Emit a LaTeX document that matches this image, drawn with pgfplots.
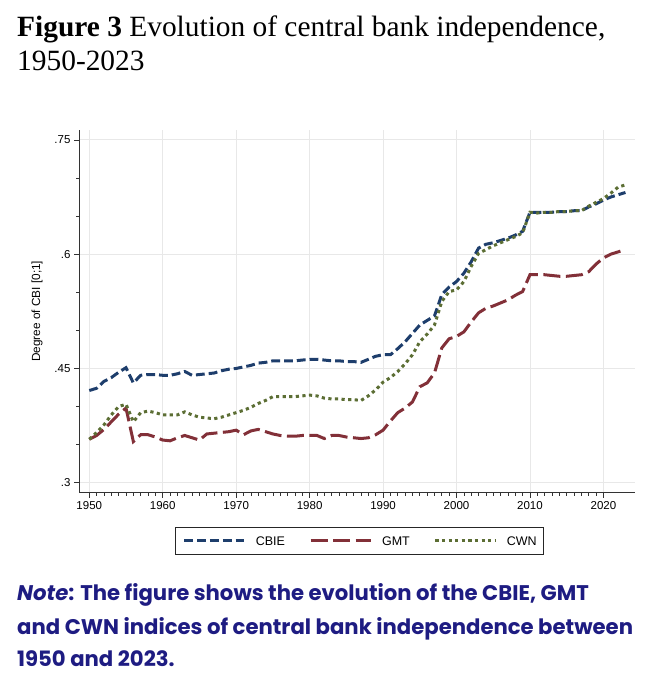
\documentclass[border=0pt]{standalone}
\usepackage{pgfplots}
\pgfplotsset{compat=1.18}
\usepackage{fontspec}
\setmainfont{Liberation Serif}
\newfontfamily\arial{Liberation Sans}
\newfontfamily\notefont{Poppins}
\definecolor{cnavy}{RGB}{30,62,108}
\definecolor{cmaroon}{RGB}{130,48,56}
\definecolor{cgreen}{RGB}{92,110,52}
\definecolor{notecol}{RGB}{30,28,130}
\definecolor{gridc}{RGB}{232,232,232}
\begin{document}
\begin{tikzpicture}[x=1pt,y=1pt]
\path[use as bounding box] (0,0) rectangle (664,680);
\node[anchor=base west,inner sep=0pt] at (17,680-37) {\fontsize{29.4}{34}\selectfont\textbf{Figure 3} Evolution of central bank independence,};
\node[anchor=base west,inner sep=0pt] at (17,680-71) {\fontsize{29.4}{34}\selectfont 1950-2023};
\begin{axis}[
  at={(79pt,187.3pt)}, anchor=south west,
  scale only axis, width=556pt, height=362.7pt,
  xmin=1948.6, xmax=2024.3, ymin=0.2869, ymax=0.763,
  axis lines*=left, axis line style={-, line width=0.9pt, black!80},
  xtick={1950,1960,...,2020}, minor x tick num=9,
  ytick={0.3,0.45,0.6,0.75}, yticklabels={.3,.45,.6,.75}, minor y tick num=2,
  tick align=outside, major tick length=5pt, minor tick length=3pt,
  every tick/.style={black!80, line width=0.7pt},
  grid=major, major grid style={gridc, line width=0.8pt},
  tick label style={font=\arial\fontsize{11.5}{12}\selectfont},
  /pgf/number format/assume math mode=true,
  xticklabel style={/pgf/number format/1000 sep={}},
  ylabel={\arial\fontsize{11.8}{12}\selectfont Degree of CBI [0;1]},
  ylabel style={at={(axis description cs:0,0.5)}, anchor=south, yshift=33pt},
  legend columns=3,
  legend style={at={(axis description cs:0.505,-0.0946)}, anchor=north, draw=black!85, line width=0.9pt,
    font=\arial\fontsize{12.5}{13}\selectfont, inner xsep=7pt, inner ysep=9pt,
    nodes={inner sep=0pt, text depth=0pt},
    /tikz/every odd column/.append style={column sep=10pt},
    /tikz/every even column/.append style={column sep=24pt}},
  legend image code/.code={\draw[#1] (0pt,0pt) -- (60pt,0pt);},
  clip=false,
]
\addplot[cnavy, line width=3pt, dash pattern=on 8.8pt off 4pt] coordinates {
(1950,0.421)(1951,0.424)(1952,0.433)(1953,0.438)(1954,0.445)(1955,0.451)(1956,0.431)(1957,0.441)(1958,0.442)(1959,0.442)(1960,0.441)(1961,0.441)(1962,0.443)(1963,0.446)(1964,0.441)(1965,0.442)(1966,0.443)(1967,0.444)(1968,0.447)(1969,0.449)(1970,0.450)(1971,0.452)(1972,0.454)(1973,0.457)(1974,0.458)(1975,0.460)(1976,0.460)(1977,0.460)(1978,0.460)(1979,0.461)(1980,0.462)(1981,0.462)(1982,0.461)(1983,0.460)(1984,0.460)(1985,0.459)(1986,0.459)(1987,0.458)(1988,0.462)(1989,0.466)(1990,0.468)(1991,0.468)(1992,0.476)(1993,0.485)(1994,0.496)(1995,0.507)(1996,0.513)(1997,0.519)(1998,0.547)(1999,0.557)(2000,0.564)(2001,0.575)(2002,0.590)(2003,0.608)(2004,0.613)(2005,0.615)(2006,0.618)(2007,0.621)(2008,0.625)(2009,0.630)(2010,0.655)(2011,0.655)(2012,0.655)(2013,0.655)(2014,0.656)(2015,0.656)(2016,0.657)(2017,0.657)(2018,0.662)(2019,0.666)(2020,0.671)(2021,0.675)(2022,0.678)(2023,0.681)};
\addlegendentry{CBIE}
\addplot[cmaroon, line width=3pt, dash pattern=on 17pt off 5.5pt] coordinates {
(1950,0.357)(1951,0.362)(1952,0.370)(1953,0.380)(1954,0.390)(1955,0.398)(1956,0.354)(1957,0.363)(1958,0.363)(1959,0.360)(1960,0.356)(1961,0.355)(1962,0.359)(1963,0.362)(1964,0.359)(1965,0.356)(1966,0.364)(1967,0.365)(1968,0.366)(1969,0.367)(1970,0.369)(1971,0.363)(1972,0.368)(1973,0.370)(1974,0.367)(1975,0.364)(1976,0.362)(1977,0.361)(1978,0.361)(1979,0.362)(1980,0.362)(1981,0.362)(1982,0.358)(1983,0.362)(1984,0.362)(1985,0.360)(1986,0.359)(1987,0.358)(1988,0.359)(1989,0.363)(1990,0.369)(1991,0.381)(1992,0.392)(1993,0.398)(1994,0.406)(1995,0.426)(1996,0.431)(1997,0.444)(1998,0.477)(1999,0.489)(2000,0.492)(2001,0.498)(2002,0.511)(2003,0.523)(2004,0.529)(2005,0.532)(2006,0.536)(2007,0.540)(2008,0.546)(2009,0.551)(2010,0.573)(2011,0.573)(2012,0.573)(2013,0.572)(2014,0.571)(2015,0.571)(2016,0.572)(2017,0.573)(2018,0.577)(2019,0.587)(2020,0.595)(2021,0.600)(2022,0.603)(2023,0.606)};
\addlegendentry{GMT}
\addplot[cgreen, line width=3pt, dash pattern=on 3.2pt off 3.4pt] coordinates {
(1950,0.357)(1951,0.366)(1952,0.376)(1953,0.389)(1954,0.400)(1955,0.403)(1956,0.380)(1957,0.392)(1958,0.394)(1959,0.392)(1960,0.389)(1961,0.389)(1962,0.389)(1963,0.393)(1964,0.389)(1965,0.386)(1966,0.385)(1967,0.384)(1968,0.386)(1969,0.389)(1970,0.392)(1971,0.395)(1972,0.399)(1973,0.404)(1974,0.408)(1975,0.413)(1976,0.413)(1977,0.413)(1978,0.413)(1979,0.414)(1980,0.415)(1981,0.414)(1982,0.411)(1983,0.410)(1984,0.410)(1985,0.409)(1986,0.409)(1987,0.408)(1988,0.414)(1989,0.422)(1990,0.432)(1991,0.438)(1992,0.446)(1993,0.456)(1994,0.468)(1995,0.485)(1996,0.495)(1997,0.507)(1998,0.538)(1999,0.551)(2000,0.553)(2001,0.564)(2002,0.584)(2003,0.601)(2004,0.606)(2005,0.611)(2006,0.615)(2007,0.619)(2008,0.623)(2009,0.628)(2010,0.655)(2011,0.654)(2012,0.655)(2013,0.655)(2014,0.656)(2015,0.656)(2016,0.657)(2017,0.657)(2018,0.663)(2019,0.668)(2020,0.673)(2021,0.680)(2022,0.688)(2023,0.691)};
\addlegendentry{CWN}
\end{axis}
\node[anchor=base west,inner sep=0pt,text=notecol] at (17,680-601) {\notefont\bfseries\fontsize{21.2}{24}\selectfont\textit{Note}: The figure shows the evolution of the CBIE, GMT};
\node[anchor=base west,inner sep=0pt,text=notecol] at (17,680-635) {\notefont\bfseries\fontsize{21.2}{24}\selectfont and CWN indices of central bank independence between};
\node[anchor=base west,inner sep=0pt,text=notecol] at (17,680-667) {\notefont\bfseries\fontsize{21.2}{24}\selectfont 1950 and 2023.};
\end{tikzpicture}
\end{document}
